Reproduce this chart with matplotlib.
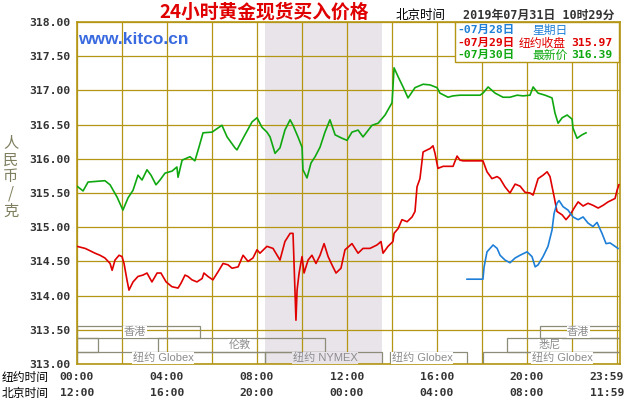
import numpy as np
import matplotlib.pyplot as plt
from matplotlib.patches import Rectangle
import matplotlib.transforms as mtransforms

CJK = ['Noto Sans CJK SC', 'DejaVu Sans']
MONO = ['DejaVu Sans Mono', 'Noto Sans CJK SC']
SANS = ['Liberation Sans', 'Noto Sans CJK SC']

# hours after 00:00 New York time, price in CNY/g
jul30_h = [0.00, 0.27, 0.49, 1.24, 1.47, 1.78, 2.04, 2.27, 2.49, 2.71, 2.89, 3.11, 3.29, 3.51,
           3.69, 3.91, 4.22, 4.44, 4.49, 4.67, 5.02, 5.24, 5.42, 5.60, 6.00, 6.44, 6.67, 7.02,
           7.11, 7.38, 7.78, 8.00, 8.22, 8.44, 8.58, 8.80, 9.02, 9.24, 9.47, 9.60, 9.82, 10.00,
           10.04, 10.22, 10.40, 10.58, 10.80, 11.02, 11.24, 11.47, 11.78, 12.00, 12.22, 12.49,
           12.71, 13.11, 13.38, 13.69, 14.00, 14.09, 14.27, 14.49, 14.71, 15.02, 15.38, 15.69,
           16.00, 16.13, 16.49, 16.71, 17.02, 17.91, 18.04, 18.27, 18.58, 18.93, 19.24, 19.56,
           19.82, 20.13, 20.27, 20.49, 20.80, 21.11, 21.24, 21.38, 21.56, 21.78, 22.00, 22.04,
           22.22, 22.44, 22.62]
jul30_p = [315.60, 315.53, 315.66, 315.68, 315.62, 315.44, 315.25, 315.43, 315.54, 315.76,
           315.69, 315.84, 315.76, 315.62, 315.69, 315.79, 315.82, 315.88, 315.73, 315.98,
           316.03, 315.97, 316.17, 316.38, 316.39, 316.49, 316.32, 316.16, 316.13, 316.30,
           316.54, 316.60, 316.46, 316.39, 316.32, 316.08, 316.16, 316.42, 316.57, 316.49,
           316.32, 316.17, 315.84, 315.72, 315.94, 316.03, 316.17, 316.39, 316.57, 316.35,
           316.30, 316.27, 316.39, 316.42, 316.32, 316.49, 316.52, 316.64, 316.82, 317.33,
           317.20, 317.05, 316.89, 317.04, 317.09, 317.08, 317.04, 316.96, 316.90, 316.92,
           316.93, 316.93, 316.96, 317.05, 316.96, 316.90, 316.90, 316.93, 316.92, 316.93,
           317.05, 316.96, 316.93, 316.89, 316.67, 316.52, 316.60, 316.64, 316.58, 316.45,
           316.30, 316.35, 316.38]

jul29_h = [0.00, 0.36, 0.49, 0.80, 1.02, 1.24, 1.47, 1.56, 1.69, 1.87, 2.00, 2.09, 2.22, 2.31,
           2.49, 2.71, 2.93, 3.11, 3.33, 3.56, 3.73, 3.96, 4.22, 4.49, 4.62, 4.80, 4.93, 5.11,
           5.33, 5.56, 5.64, 5.82, 6.04, 6.27, 6.49, 6.71, 6.89, 7.16, 7.38, 7.60, 7.82, 8.00,
           8.13, 8.44, 8.71, 9.02, 9.24, 9.47, 9.60, 9.64, 9.73, 9.78, 9.87, 10.00, 10.09,
           10.27, 10.44, 10.62, 10.80, 10.98, 11.16, 11.33, 11.51, 11.73, 11.91, 12.22, 12.49,
           12.71, 13.02, 13.33, 13.51, 13.60, 13.82, 14.04, 14.09, 14.27, 14.44, 14.67, 14.89,
           15.02, 15.11, 15.24, 15.38, 15.56, 15.69, 15.82, 15.91, 16.04, 16.27, 16.58, 16.71,
           16.89, 17.02, 17.16, 18.04, 18.22, 18.44, 18.67, 18.80, 19.02, 19.24, 19.47, 19.69,
           19.91, 20.13, 20.27, 20.49, 20.71, 20.89, 21.02, 21.20, 21.33, 21.56, 21.73, 21.91,
           22.13, 22.27, 22.49, 22.71, 22.93, 23.16, 23.38, 23.60, 23.91, 24.00, 24.08]
jul29_p = [314.72, 314.69, 314.67, 314.62, 314.59, 314.55, 314.47, 314.37, 314.52, 314.59,
           314.57, 314.47, 314.23, 314.08, 314.20, 314.28, 314.30, 314.33, 314.20, 314.33,
           314.33, 314.20, 314.13, 314.11, 314.18, 314.30, 314.28, 314.23, 314.20, 314.25,
           314.33, 314.28, 314.23, 314.35, 314.47, 314.45, 314.40, 314.42, 314.59, 314.50,
           314.55, 314.67, 314.62, 314.72, 314.69, 314.52, 314.79, 314.91, 314.91, 314.52,
           313.64, 314.08, 314.33, 314.57, 314.33, 314.52, 314.59, 314.47, 314.59, 314.76,
           314.57, 314.45, 314.33, 314.40, 314.67, 314.76, 314.62, 314.69, 314.69, 314.74,
           314.79, 314.62, 314.72, 314.79, 314.91, 314.98, 315.11, 315.08, 315.15, 315.23,
           315.59, 315.71, 316.10, 316.13, 316.15, 316.19, 316.08, 315.86, 315.89, 315.89,
           315.89, 316.04, 315.98, 315.97, 315.97, 315.81, 315.71, 315.74, 315.71, 315.59,
           315.50, 315.63, 315.60, 315.51, 315.50, 315.47, 315.71, 315.76, 315.81, 315.74,
           315.45, 315.23, 315.18, 315.11, 315.18, 315.30, 315.37, 315.31, 315.35, 315.32,
           315.28, 315.32, 315.37, 315.42, 315.54, 315.62]

jul28_h = [17.33, 18.04, 18.09, 18.22, 18.49, 18.67, 18.80, 19.02, 19.24, 19.47, 19.69, 20.00,
           20.22, 20.36, 20.49, 20.71, 20.93, 21.11, 21.20, 21.33, 21.42, 21.60, 21.82, 22.04,
           22.27, 22.49, 22.71, 22.93, 23.11, 23.33, 23.51, 23.69, 23.91, 24.04]
jul28_p = [314.24, 314.24, 314.42, 314.64, 314.74, 314.69, 314.59, 314.52, 314.48, 314.55,
           314.59, 314.64, 314.57, 314.42, 314.45, 314.57, 314.72, 314.96, 315.20, 315.35,
           315.39, 315.30, 315.25, 315.15, 315.11, 315.15, 315.06, 315.01, 315.07, 314.91,
           314.76, 314.77, 314.72, 314.69]

y_ticks = [313.0, 313.5, 314.0, 314.5, 315.0, 315.5, 316.0, 316.5, 317.0, 317.5, 318.0]
label_hours = [0, 4, 8, 12, 16, 20, 23.55]
ny_labels = ['00:00', '04:00', '08:00', '12:00', '16:00', '20:00', '23:59']
bj_labels = ['12:00', '16:00', '20:00', '00:00', '04:00', '08:00', '11:59']

# market sessions: name, start, end, row (0 = top row), label centre
sess_names = ['香港', '伦敦', '', '纽约 Globex', '纽约 NYMEX', '纽约 Globex', '纽约 Globex', '悉尼', '香港']
sess_start = [0.0, 3.6, 0.0, 0.0, 8.36, 13.91, 18.04, 19.11, 20.58]
sess_end = [5.47, 11.02, 0.93, 8.36, 13.56, 17.33, 24.2, 24.2, 24.2]
sess_row = [0, 1, 1, 2, 2, 2, 2, 1, 0]
sess_text_x = [2.58, 7.24, 0, 3.82, 11.02, 15.33, 21.56, 21.02, 22.27]
row_lo = [313.38, 313.175, 313.0]
row_hi = [313.556, 313.38, 313.175]

nymex = (8.36, 13.56)

gold = '#B49614'
shade = '#E8E4EA'
box_c = '#8C8C78'

fig = plt.figure(figsize=(6.3, 4), dpi=100)
ax = fig.add_axes([77 / 630, 36 / 400, 543 / 630, 342 / 400])
ax.set_xlim(0, 24.13)
ax.set_ylim(313, 318)

ax.axvspan(nymex[0], nymex[1], color=shade, zorder=0, lw=0)

ax.set_xticks(np.arange(0, 25, 2))
ax.set_yticks(y_ticks)
ax.set_yticklabels([f'{v:.2f}' for v in y_ticks], family=MONO, fontweight='bold',
                   fontsize=8.2, color='#333333')
ax.tick_params(length=0, labelbottom=False, pad=5)
ax.grid(color=gold, lw=0.9, zorder=1)
ax.set_axisbelow(True)
for s in ax.spines.values():
    s.set_color(gold)
    s.set_linewidth(1.2)

for name, a, b, r, tx in zip(sess_names, sess_start, sess_end, sess_row, sess_text_x):
    ax.add_patch(Rectangle((a, row_lo[r]), b - a, row_hi[r] - row_lo[r], fill=False,
                           ec=box_c, lw=0.9, zorder=2))
    if name:
        bg = shade if nymex[0] < tx < nymex[1] else 'white'
        ax.text(tx, (row_lo[r] + row_hi[r]) / 2, name, ha='center', va='center',
                fontsize=8, color='#8C8C8C', family=SANS, zorder=3,
                bbox=dict(facecolor=bg, edgecolor='none', pad=0.3))

ax.plot(jul29_h, jul29_p, color='#E00000', lw=1.2, zorder=4)
ax.plot(jul30_h, jul30_p, color='#10A810', lw=1.2, zorder=4)
ax.plot(jul28_h, jul28_p, color='#1E7FD8', lw=1.2, zorder=4)

# time labels under the axis
trans = mtransforms.blended_transform_factory(ax.transData, fig.transFigure)
for h, ny, bj in zip(label_hours, ny_labels, bj_labels):
    ax.text(h, 1 - 377 / 400, ny, transform=trans, ha='center', va='center', family=MONO,
            fontweight='bold', fontsize=8.2, color='#333333', clip_on=False)
    ax.text(h, 1 - 393 / 400, bj, transform=trans, ha='center', va='center', family=MONO,
            fontweight='bold', fontsize=8.2, color='#333333', clip_on=False)
fig.text(2 / 630, 1 - 377 / 400, '纽约时间', ha='left', va='center', family=CJK, fontsize=8.5)
fig.text(2 / 630, 1 - 393 / 400, '北京时间', ha='left', va='center', family=CJK, fontsize=8.5)

fig.text(11 / 630, 1 - 177 / 400, '人\n民\n币\n/\n克', ha='center', va='center', family=CJK,
         fontsize=11, color='#7F7F5F', linespacing=1.0)

fig.text(264 / 630, 1 - 12 / 400, '24小时黄金现货买入价格', ha='center', va='center',
         family=CJK, fontsize=13.5, fontweight='bold', color='#E00000')
fig.text(78 / 630, 1 - 40 / 400, 'www.kitco.cn', ha='left', va='center',
         family=['Liberation Sans'], fontsize=12.5, fontweight='bold', color='#3A6AE0')
fig.text(396 / 630, 1 - 15 / 400, '北京时间', ha='left', va='center', family=CJK, fontsize=9)
fig.text(463 / 630, 1 - 15 / 400, '2019年07月31日 10时29分', ha='left', va='center',
         family=MONO, fontsize=8.5, fontweight='bold', color='#333333')

# legend box
fig.patches.append(Rectangle((455 / 630, 1 - 62 / 400), 164 / 630, 40 / 400,
                             transform=fig.transFigure, fc='white', ec=gold, lw=1.0,
                             zorder=5))
leg_rows = [(30, '-07月28日', '星期日', '', '#1E7FD8', 532),
            (43, '-07月29日', '纽约收盘', '315.97', '#E00000', 519),
            (55, '-07月30日', '最新价', '316.39', '#10A810', 532)]
for yy, d, lab, val, c, lx in leg_rows:
    fig.text(457 / 630, 1 - yy / 400, d, ha='left', va='center', family=MONO,
             fontweight='bold', fontsize=8.2, color=c, zorder=6)
    fig.text(lx / 630, 1 - yy / 400, lab, ha='left', va='center', family=CJK,
             fontsize=8.5, color=c, zorder=6)
    if val:
        fig.text(613 / 630, 1 - yy / 400, val, ha='right', va='center', family=MONO,
                 fontweight='bold', fontsize=8.2, color=c, zorder=6)

fig.savefig('out.png', dpi=100)
